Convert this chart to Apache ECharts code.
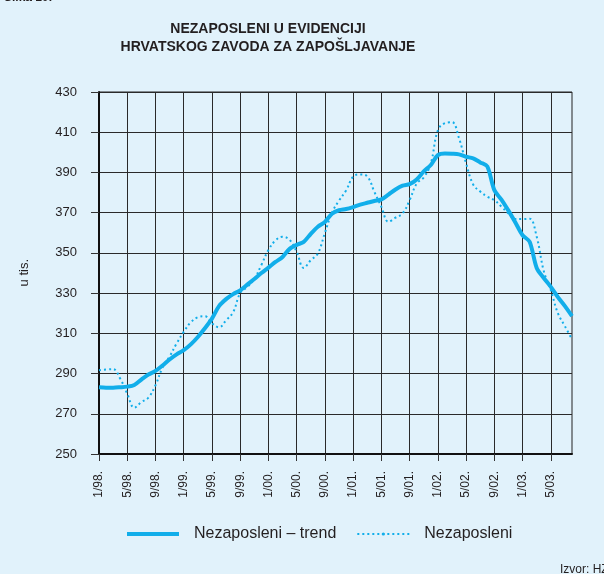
<!DOCTYPE html>
<html lang="hr">
<head>
    <meta charset="UTF-8" />
    <title>Nezaposleni u evidenciji HZZ</title>
    <script src="https://cdn.jsdelivr.net/npm/echarts@6/dist/echarts.min.js"></script>
    <style>
        html, body { margin: 0; padding: 0; background: #e1f2fb; }
        #chart { width: 604px; height: 574px; }
    </style>
</head>
<body>
<div id="chart"></div>
<script type="text/javascript">
    // mjeseci 1/98. - 8/03.
    var years = ['98', '99', '00', '01', '02', '03'];
    var months = [];
    years.forEach(function (y) {
        for (var m = 1; m <= 12; m++) months.push(m + '/' + y + '.');
    });
    months = months.slice(0, 68);

    var yTicks = [250, 270, 290, 310, 330, 350, 370, 390, 410, 430];

    // trend (u tisućama)
    var trend = [
        283.2, 283, 283, 283.2, 283.5, 284.3, 287, 289.5, 291.3, 294, 297, 299.5,
        301.6, 304.5, 308.2, 312.5, 317.3, 323.5, 327, 329.5, 331.4, 334.2, 337, 340,
        342.7, 345.5, 348, 352, 354, 355.5, 359.5, 363, 365.4, 369.5, 371.2, 371.8,
        372.8, 374, 374.9, 375.8, 376.6, 379, 381.5, 383.4, 384.2, 386.5, 390.5, 393.7,
        398.6, 399.4, 399.3, 399, 397.8, 397, 395, 393, 381.2, 376.5, 371, 365,
        358.8, 355.5, 342.5, 337.5, 333.1, 328, 323.5, 318.5
    ];
    // originalni podaci
    var nezaposleni = [
        291.6, 292, 292.2, 287.5, 280, 273, 275.8, 278, 284.2, 293, 298.5, 305,
        310.7, 315.5, 318, 318.5, 315, 313, 316.5, 320.5, 330, 333, 337, 344,
        351.4, 356.2, 358, 356.5, 350.5, 342.5, 346.4, 349.7, 360, 370, 376, 381,
        387.9, 389, 388, 380.4, 372.9, 365.5, 367.5, 369.6, 376.2, 384.5, 387.5, 394.5,
        411, 414.5, 415, 407, 394.5, 384, 380.5, 378, 376.2, 373, 369.6, 366.8,
        366.8, 367, 358, 341, 331.4, 320, 313.5, 307
    ];

    var blue = '#11aeea';
    var ink = '#231f20';
    var font = '"Liberation Sans", Arial, sans-serif';

    var myChart = echarts.init(document.getElementById('chart'));
    var option = {
        backgroundColor: '#e1f2fb',
        animation: false,
        textStyle: { fontFamily: font },
        grid: {
            left: 99, right: 32, top: 92, bottom: 120,
            show: true, borderColor: '#222', borderWidth: 1
        },
        graphic: [
            {
                type: 'text', x: 268, y: 20,
                style: {
                    text: 'NEZAPOSLENI U EVIDENCIJI\nHRVATSKOG ZAVODA ZA ZAPOŠLJAVANJE',
                    font: 'bold 14px "Liberation Sans Narrow", "Liberation Sans", Arial',
                    fill: ink, align: 'center', lineHeight: 18
                }
            },
            {
                type: 'text', left: 4, top: -8,
                style: { text: 'Slika 10.', font: 'bold 12px ' + font, fill: ink }
            },
            {
                type: 'text', left: 560, top: 564,
                style: { text: 'Izvor: HZZ', font: '12px ' + font, fill: ink }
            },
            {
                type: 'text', left: 18, top: 259, rotation: Math.PI / 2,
                style: { text: 'u tis.', font: '13px ' + font, fill: ink }
            }
        ],
        legend: {
            bottom: 27, left: 122,
            itemWidth: 52, itemHeight: 4, itemGap: 20,
            textStyle: { fontSize: 16, color: ink, padding: [0, 0, 0, 10] },
            data: [
                { name: 'Nezaposleni – trend', icon: 'path://M0,0H52V4H0Z' },
                { name: 'Nezaposleni' }
            ]
        },
        xAxis: {
            type: 'category',
            boundaryGap: false,
            data: months,
            axisLine: { lineStyle: { color: '#111', width: 2 } },
            axisTick: { show: true, interval: 3, length: 7, lineStyle: { color: '#333' } },
            axisLabel: { interval: 3, rotate: 90, color: ink, fontSize: 12, margin: 17 },
            splitLine: { show: true, interval: 3, lineStyle: { color: '#2a2a2a', width: 1 } }
        },
        yAxis: {
            type: 'value',
            min: yTicks[0], max: yTicks[yTicks.length - 1], interval: 20,
            axisLine: { show: true, lineStyle: { color: '#111', width: 2 } },
            axisTick: { show: true, length: 8, lineStyle: { color: '#333' } },
            axisLabel: { color: ink, fontSize: 13, margin: 22 },
            splitLine: { show: true, lineStyle: { color: '#2a2a2a', width: 1 } }
        },
        series: [
            {
                name: 'Nezaposleni – trend',
                type: 'line',
                data: trend,
                symbol: 'none',
                smooth: 0.3,
                lineStyle: { color: blue, width: 4 },
                itemStyle: { color: blue },
                z: 3
            },
            {
                name: 'Nezaposleni',
                type: 'line',
                data: nezaposleni,
                symbol: 'none',
                smooth: 0.4,
                lineStyle: { color: blue, width: 2, type: [2, 3] },
                itemStyle: { color: blue },
                z: 2
            }
        ]
    };
    myChart.setOption(option);
    window.onresize = function () {
        myChart.resize();
    };
</script>
</body>
</html>
